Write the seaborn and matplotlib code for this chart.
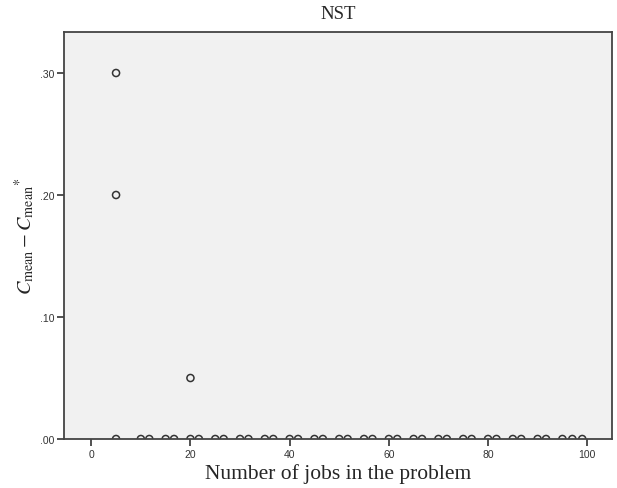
import matplotlib
matplotlib.use("Agg")
from matplotlib import pyplot as plt
import seaborn as sb
import pandas as pd

# Data
jobs_zero = [5, 10, 11.7, 15, 16.7, 20, 21.7, 25, 26.7, 30, 31.7, 35, 36.7,
             40, 41.7, 45, 46.7, 50, 51.7, 55, 56.7, 60, 61.7, 65, 66.7,
             70, 71.7, 75, 76.7, 80, 81.7, 85, 86.7, 90, 91.7, 95, 97, 99]
jobs_nonzero = [5, 5, 20]
diff_nonzero = [0.30, 0.20, 0.05]

x_ticks = [0, 20, 40, 60, 80, 100]
y_ticks = [0.0, 0.10, 0.20, 0.30]
y_tick_labels = [".00", ".10", ".20", ".30"]

df = pd.DataFrame({
    "jobs": jobs_zero + jobs_nonzero,
    "diff": [0.0] * len(jobs_zero) + diff_nonzero,
})

sb.set_theme(style="white")
plt.rcParams["mathtext.fontset"] = "stix"

fig = plt.figure(figsize=(6.17, 4.89), dpi=100)
ax = fig.add_axes([0.1037, 0.1002, 0.8882, 0.8323])
ax.set_facecolor("#f1f1f1")

sb.scatterplot(data=df, x="jobs", y="diff", ax=ax, marker="o", s=26,
               facecolors="none", edgecolor="#333333", linewidth=1.1)
for coll in ax.collections:
    coll.set_clip_on(True)
    coll.set_clip_box(ax.bbox)

ax.set_xlim(-5.5, 105)
ax.set_ylim(0, 0.3336)
ax.set_xticks(x_ticks)
ax.set_xticklabels([str(t) for t in x_ticks])
ax.set_yticks(y_ticks)
ax.set_yticklabels(y_tick_labels)
ax.tick_params(axis="both", direction="out", length=5, width=1.2,
               color="#333333", labelsize=7.5, labelcolor="#333333", pad=2,
               bottom=True, left=True)
for lab in ax.get_xticklabels() + ax.get_yticklabels():
    lab.set_fontfamily("Liberation Sans")
for side in ["left", "bottom", "top", "right"]:
    ax.spines[side].set_color("#444444")
    ax.spines[side].set_linewidth(1.3)

ax.set_title("NST", fontfamily="Liberation Serif", fontsize=13.5, pad=10)
ax.set_xlabel("Number of jobs in the problem", fontfamily="Liberation Serif",
              fontsize=15.5, labelpad=3)
ax.set_ylabel(r"$C_{\mathrm{mean}} - C_{\mathrm{mean}}{}^{*}$", fontsize=14.5,
              labelpad=2)

fig.savefig("out.png", dpi=100)
